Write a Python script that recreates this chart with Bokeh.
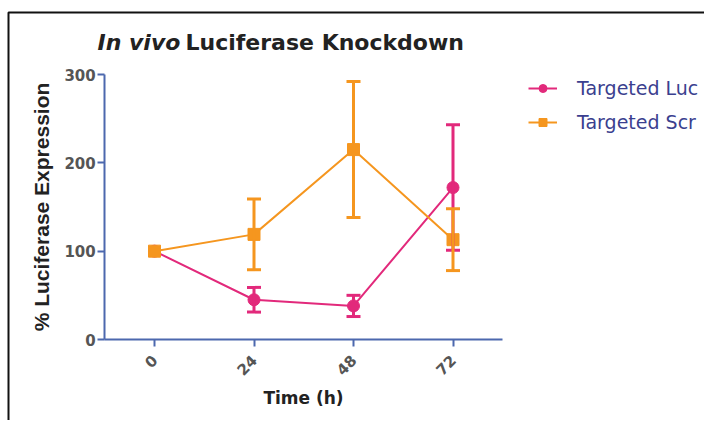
import numpy as np
from bokeh.plotting import figure
from bokeh.models import (ColumnDataSource, Range1d, FixedTicker, Whisker, TeeHead,
                          Legend, LegendItem, Label, BoxAnnotation)
from bokeh.embed import file_html
from bokeh.resources import INLINE

# ---- data ----
time_h = [0, 24, 48, 72]
luc_mean = [100, 45, 38, 172]
luc_err = [0, 14, 12, 71]
scr_mean = [100, 119, 215, 113]
scr_err = [0, 40, 77, 35]
x_ticks = [0, 24, 48, 72]
y_ticks = [0, 100, 200, 300]
x_bounds = (-12, 84)
y_bounds = (0, 300)
series_names = ["Targeted Luc", "Targeted Scr"]
title_italic = "In vivo"
title_rest = "Luciferase Knockdown"
x_label = "Time (h)"
y_label = "% Luciferase Expression"

PINK = "#E2297B"
ORANGE = "#F5961F"
AXIS = "#4C68AE"
TICK_TXT = "#555555"
DARK = "#222222"

# ---- layout (pixels inside the canvas) ----
W, H = 704, 420
X0_PX = 154.0                 # canvas x of time 0
PX_PER_H = 398.0 / 96.0       # horizontal scale
Y0_PX = 339.0                 # canvas y (from top) of value 0
PX_PER_U = 265.0 / 300.0      # vertical scale

x_range = Range1d(-X0_PX / PX_PER_H, (W - X0_PX) / PX_PER_H)
y_range = Range1d(-(H - Y0_PX) / PX_PER_U, Y0_PX / PX_PER_U)

p = figure(width=W, height=H, output_backend="svg", toolbar_location=None,
           x_range=x_range, y_range=y_range,
           min_border_left=0, min_border_right=0,
           min_border_top=0, min_border_bottom=0)
p.grid.visible = False
p.outline_line_color = None
p.background_fill_color = "white"
p.border_fill_color = "white"

# picture frame: top and left black lines
frame_box = BoxAnnotation(left=8, right=W + 40, bottom=-40, top=H - 12,
                          left_units="screen", right_units="screen",
                          bottom_units="screen", top_units="screen",
                          fill_alpha=0, line_color="#111111", line_width=2,
                          line_alpha=1)
p.add_layout(frame_box)


def whisker_source(mean, err):
    xs, lo, hi = [], [], []
    for t, m, e in zip(time_h, mean, err):
        if e > 0:
            xs.append(t)
            lo.append(m - e)
            hi.append(m + e)
    return ColumnDataSource(dict(x=xs, lower=lo, upper=hi))


for mean, err, col in [(luc_mean, luc_err, PINK), (scr_mean, scr_err, ORANGE)]:
    w = Whisker(source=whisker_source(mean, err), base="x", lower="lower", upper="upper",
                dimension="height", line_color=col, line_width=3, level="glyph",
                upper_head=TeeHead(size=14, line_color=col, line_width=3),
                lower_head=TeeHead(size=14, line_color=col, line_width=3))
    p.add_layout(w)

src_luc = ColumnDataSource(dict(x=time_h, y=luc_mean))
src_scr = ColumnDataSource(dict(x=time_h, y=scr_mean))

l1 = p.line("x", "y", source=src_luc, line_color=PINK, line_width=2)
m1 = p.scatter("x", "y", source=src_luc, marker="circle", size=12,
               fill_color=PINK, line_color=PINK)
l2 = p.line("x", "y", source=src_scr, line_color=ORANGE, line_width=2)
m2 = p.scatter("x", "y", source=src_scr, marker="square", size=12,
               fill_color=ORANGE, line_color=ORANGE)

# axes
for ax in (p.xaxis[0], p.yaxis[0]):
    ax.axis_line_color = AXIS
    ax.axis_line_width = 2
    ax.major_tick_line_color = AXIS
    ax.major_tick_line_width = 2
    ax.major_tick_in = 0
    ax.major_tick_out = 7
    ax.minor_tick_line_color = None
    ax.major_label_text_font = "DejaVu Sans"
    ax.major_label_text_font_style = "bold"
    ax.major_label_text_font_size = "15px"
    ax.major_label_text_color = TICK_TXT
    ax.axis_label_text_color = DARK
    ax.axis_label_text_font_style = "bold"

p.xaxis.ticker = FixedTicker(ticks=x_ticks)
p.yaxis.ticker = FixedTicker(ticks=y_ticks)
p.xaxis.bounds = x_bounds
p.yaxis.bounds = y_bounds
p.xaxis.fixed_location = y_bounds[0]
p.yaxis.fixed_location = x_bounds[0]
p.xaxis.major_label_orientation = np.pi / 4
p.xaxis.major_label_standoff = 11
p.yaxis.major_label_standoff = 2

p.xaxis.axis_label = x_label
p.xaxis.axis_label_text_font = "DejaVu Sans"
p.xaxis.axis_label_text_font_size = "17px"
p.xaxis.axis_label_standoff = 4

p.yaxis.axis_label = y_label
p.yaxis.axis_label_text_font = "Liberation Sans"
p.yaxis.axis_label_text_font_size = "21px"
p.yaxis.axis_label_standoff = 8

# legend
legend = Legend(items=[LegendItem(label=series_names[0], renderers=[l1, m1]),
                       LegendItem(label=series_names[1], renderers=[l2, m2])],
                location=(528, 287), orientation="vertical",
                glyph_width=29, glyph_height=20, label_height=20, spacing=12,
                padding=0, margin=0, label_standoff=20,
                label_text_font="DejaVu Sans", label_text_font_size="19px",
                label_text_color="#3B3F8F",
                border_line_color=None, background_fill_alpha=0)
p.add_layout(legend)

# title (italic + bold parts)
t1 = Label(x=97, y=H - 42, x_units="screen", y_units="screen", text=title_italic,
           text_font="DejaVu Sans", text_font_style="bold italic", text_font_size="22px",
           text_color=DARK, text_align="left", text_baseline="alphabetic")
t2 = Label(x=185, y=H - 42, x_units="screen", y_units="screen", text=title_rest,
           text_font="DejaVu Sans", text_font_style="bold", text_font_size="22px",
           text_color=DARK, text_align="left", text_baseline="alphabetic")
p.add_layout(t1)
p.add_layout(t2)

open("out.html", "w").write(file_html(p, INLINE))
